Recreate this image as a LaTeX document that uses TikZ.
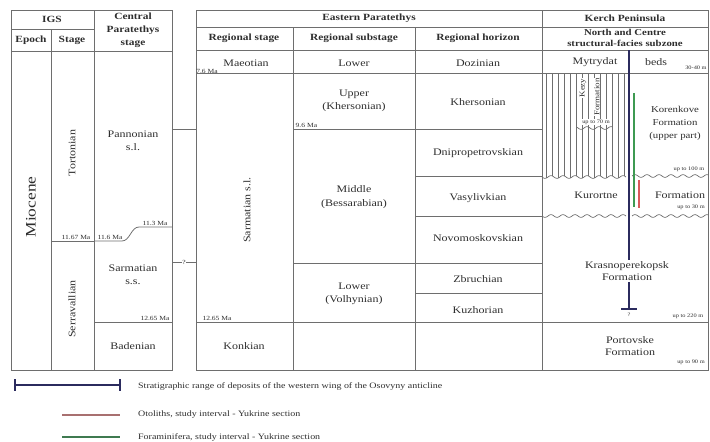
\documentclass[tikz,border=0pt]{standalone}
\usepackage{fontspec}
\setmainfont[FakeStretch=1.2]{Liberation Serif}
\usetikzlibrary{calc}
\definecolor{gridc}{HTML}{6E6E6E}
\definecolor{txtc}{HTML}{2E2E2E}
\definecolor{navy}{HTML}{2B2B5E}
\definecolor{redl}{HTML}{D85A5A}
\definecolor{greenl}{HTML}{3E9A52}
\definecolor{redleg}{HTML}{A87070}
\definecolor{greenleg}{HTML}{3F7A50}
\tikzset{
  tl/.style={draw=gridc, line width=0.8pt},
  hatch/.style={draw=gridc, line width=0.55pt},
  lb/.style={font=\fontsize{10}{13.5}\selectfont, text=txtc, align=center, inner sep=1pt},
  hd/.style={font=\bfseries\fontsize{9.5}{13}\selectfont, text=txtc, align=center, inner sep=1pt},
  sm/.style={font=\fontsize{6.3}{7}\selectfont, text=txtc, inner sep=0.5pt},
  tn/.style={font=\fontsize{5.3}{6}\selectfont, text=txtc, inner sep=0.3pt},
  lg/.style={font=\fontsize{8.3}{9}\selectfont, text=txtc, anchor=west, inner sep=0pt},
  bar/.style={draw=navy, line width=1.6pt},
}
\begin{document}
\begin{tikzpicture}[x=1pt,y=-1pt]
\useasboundingbox (0,0) rectangle (710,442);
% ---------- left table ----------
\draw[tl] (11,10) rectangle (172,370);
\draw[tl] (94,10) -- (94,370);
\draw[tl] (51,29) -- (51,370);
\draw[tl] (11,29) -- (94,29);
\draw[tl] (11,51) -- (172,51);
\draw[tl] (51,241) -- (94,241);
\draw[tl] (94,241) -- (122,241) .. controls (130,241) and (131,227) .. (139,227) -- (172,227);
\draw[tl] (94,322) -- (172,322);
% links between tables
\draw[tl] (172,129) -- (196,129);
\draw[tl] (172,262) -- (196,262);
% ---------- main table ----------
\draw[tl] (196,10) rectangle (708.6,370);
\draw[tl] (542,10) -- (542,370);
\draw[tl] (293,27) -- (293,370);
\draw[tl] (415,27) -- (415,370);
\draw[tl] (196,27) -- (708.6,27);
\draw[tl] (196,50) -- (708.6,50);
\draw[tl] (196,73) -- (708.6,73);
\draw[tl] (293,129) -- (542,129);
\draw[tl] (293,263) -- (542,263);
\draw[tl] (415,176) -- (542,176);
\draw[tl] (415,216) -- (542,216);
\draw[tl] (415,293) -- (542,293);
\draw[tl] (196,322) -- (708.6,322);
% Kerch hatching and wavy boundaries
\foreach \x in {546,552,...,624} {
  \draw[hatch] (\x,73) -- (\x,{177+1.4*sin(30*(\x-542))});
}
\draw[hatch, line width=0.7pt] plot[domain=542:626, samples=90] (\x,{177+1.4*sin(30*(\x-542))});
\draw[hatch, line width=0.7pt] plot[domain=632:708.6, samples=80] (\x,{176+1.4*sin(30*(\x-542))});
\draw[hatch, line width=0.7pt] plot[domain=542:626, samples=90] (\x,{216+1.4*sin(30*(\x-542))});
\draw[hatch, line width=0.7pt] plot[domain=632:708.6, samples=80] (\x,{216+1.4*sin(30*(\x-542))});
\draw[hatch, line width=0.7pt] plot[domain=577:612, samples=40] (\x,{128+1.4*sin(30*(\x-542))});
% ---------- left table text ----------
\node[hd] (igs) at (52,19) {IGS};
\node[hd] (epoch) at (31,40) {Epoch};
\node[hd] (stage) at (72,40) {Stage};
\node[hd] (cps) at (133,30) {Central\\Paratethys\\stage};
\node[lb, rotate=90, font=\fontsize{14.5}{16}\selectfont] (mio) at (31,207) {Miocene};
\node[lb, rotate=90] (tort) at (72,153) {Tortonian};
\node[lb, rotate=90] (serr) at (72,309) {Serravallian};
\node[lb] (pann) at (133,141) {Pannonian\\s.l.};
\node[lb] (sarss) at (133,275) {Sarmatian\\s.s.};
\node[lb] (bad) at (133,346) {Badenian};
\node[sm, anchor=south] (m1167) at (76,240) {11.67 Ma};
\node[sm, anchor=south] (m116) at (110,240) {11.6 Ma};
\node[sm, anchor=south] (m113) at (155,226) {11.3 Ma};
\node[sm, anchor=south] (m1265a) at (155,321) {12.65 Ma};
\node[sm, fill=white, inner sep=0.3pt] (q1) at (184,262) {?};
% ---------- main table text ----------
\node[hd] (ep) at (369,18) {Eastern Paratethys};
\node[hd] (rs) at (244,38) {Regional stage};
\node[hd] (rss) at (354,38) {Regional substage};
\node[hd] (rh) at (478,38) {Regional horizon};
\node[hd] (kp) at (625,18) {Kerch Peninsula};
\node[hd, font=\bfseries\fontsize{9}{11.5}\selectfont] (nc) at (625,38) {North and Centre\\structural-facies subzone};
\node[lb] (mae) at (246,63) {Maeotian};
\node[sm] (m76) at (207,71) {7.6 Ma};
\node[lb, rotate=90] (sar) at (247,210) {Sarmatian s.l.};
\node[sm, anchor=south] (m1265b) at (217,321) {12.65 Ma};
\node[lb] (kon) at (244,346) {Konkian};
\node[lb] (low1) at (354,63) {Lower};
\node[lb] (upp) at (354,101) {Upper\\(Khersonian)};
\node[sm, anchor=west] (m96) at (295,125) {9.6 Ma};
\node[lb] (mid) at (354,197) {Middle\\(Bessarabian)};
\node[lb] (low2) at (354,294) {Lower\\(Volhynian)};
\node[lb] (doz) at (478,63) {Dozinian};
\node[lb] (khe) at (478,102) {Khersonian};
\node[lb] (dni) at (478,153) {Dnipropetrovskian};
\node[lb] (vas) at (478,198) {Vasylivkian};
\node[lb] (nov) at (478,238) {Novomoskovskian};
\node[lb] (zbr) at (478,279) {Zbruchian};
\node[lb] (kuz) at (478,310) {Kuzhorian};
% ---------- Kerch text ----------
\node[lb] (myt) at (595,62) {Mytrydat};
\node[lb] (beds) at (656,62) {beds};
\node[tn] (t3040) at (696,68) {30-40 m};
\node[lb, rotate=90, font=\fontsize{7.5}{8}\selectfont, fill=white, inner sep=0.5pt] (kezy) at (583,88) {Kezy};
\node[lb, rotate=90, font=\fontsize{7.5}{8}\selectfont, fill=white, inner sep=0.5pt] (kezf) at (597,97) {Formation};
\node[tn, fill=white] (t70) at (596,122) {up to 70 m};
\node[lb, font=\fontsize{9}{13}\selectfont] (kor) at (675,123) {Korenkove\\Formation\\(upper part)};
\node[tn] (t100) at (689,169) {up to 100 m};
\node[lb] (kur) at (596,195) {Kurortne};
\node[lb] (kurf) at (680,195) {Formation};
\node[tn] (t30) at (691,207) {up to 30 m};
\node[lb, font=\fontsize{10}{12.5}\selectfont] (kras) at (627,271) {Krasnoperekopsk\\Formation};
\node[tn] (t220) at (688,316) {up to 220 m};
\node[lb, font=\fontsize{10}{12}\selectfont] (port) at (630,346) {Portovske\\Formation};
\node[tn] (t90) at (691,362) {up to 90 m};
% range bar and study intervals
\coordinate (bt) at (629,50);
\coordinate (bb) at (629,309);
\draw[bar] (bt) -- (bt |- kras.north);
\draw[bar] (bt |- kras.south) -- (bb);
\draw[bar, line width=1.2pt] ($(bb)+(-8,0)$) -- ($(bb)+(8,0)$);
\node[tn] (q2) at (629,315) {?};
\coordinate (gt) at (634,93);
\coordinate (gb) at (634,207);
\draw[draw=greenl, line width=1.1pt] (gt) -- (gb);
\coordinate (rt) at (639,180);
\coordinate (rb) at (639,208);
\draw[draw=redl, line width=1.1pt] (rt) -- (rb);
% ---------- legend ----------
\coordinate (l1a) at (15,385);
\coordinate (l1b) at (120,385);
\draw[bar, line width=1.4pt] (l1a) -- (l1b);
\draw[bar, line width=1.4pt] ($(l1a)+(0,-6)$) -- ($(l1a)+(0,6)$);
\draw[bar, line width=1.4pt] ($(l1b)+(0,-6)$) -- ($(l1b)+(0,6)$);
\node[lg] (lt1) at (138,386) {Stratigraphic range of deposits of the western wing of the Osovyny anticline};
\coordinate (l2a) at (62,415);
\coordinate (l2b) at (120,415);
\draw[draw=redleg, line width=1.6pt] (l2a) -- (l2b);
\node[lg] (lt2) at (138,415) {Otoliths, study interval - Yukrine section};
\coordinate (l3a) at (62,437);
\coordinate (l3b) at (120,437);
\draw[draw=greenleg, line width=1.6pt] (l3a) -- (l3b);
\node[lg] (lt3) at (138,437) {Foraminifera, study interval - Yukrine section};
\end{tikzpicture}
\end{document}
